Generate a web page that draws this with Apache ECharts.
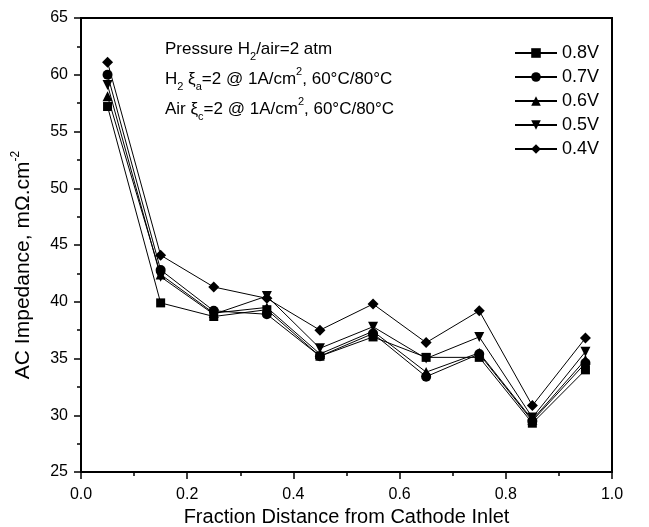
<!DOCTYPE html>
<html><head><meta charset="utf-8">
<script src="https://cdn.jsdelivr.net/npm/echarts@6/dist/echarts.min.js"></script>
<style>html,body{margin:0;padding:0;background:#fff}#c{width:649px;height:527px}</style>
</head><body><div id="c"></div>
<script>
// ---- data ----
const xPositions = [0.05, 0.15, 0.25, 0.35, 0.45, 0.55, 0.65, 0.75, 0.85, 0.95];
const seriesNames = ['0.8V', '0.7V', '0.6V', '0.5V', '0.4V'];
const v08 = [57.2, 39.9, 38.7, 39.3, 35.2, 36.9, 35.1, 35.1, 29.3, 34.0];
const v07 = [60.0, 42.8, 39.2, 38.9, 35.2, 37.2, 33.4, 35.4, 29.5, 34.6];
const v06 = [58.1, 42.4, 39.0, 39.5, 35.4, 37.4, 33.8, 35.5, 29.6, 34.9];
const v05 = [59.1, 42.2, 38.9, 40.5, 35.9, 37.8, 35.0, 36.9, 29.8, 35.6];
const v04 = [61.1, 44.1, 41.3, 40.3, 37.5, 39.8, 36.4, 39.2, 30.85, 36.8];
const xTickLabels = ['0.0', '0.2', '0.4', '0.6', '0.8', '1.0'];

const FONT = '"Liberation Sans", Arial, sans-serif';
const symbols = ['rect', 'circle', 'triangle', 'path://M0,0 L10,0 L5,10 Z', 'diamond'];
const sizes = [9, 10, 10, 10, 11];
const values = [v08, v07, v06, v05, v04];

const series = seriesNames.map((n, i) => ({
  name: n,
  type: 'line',
  data: xPositions.map((x, j) => [x, values[i][j]]),
  symbol: symbols[i],
  symbolSize: sizes[i],
  showAllSymbol: true,
  lineStyle: { color: '#000', width: 1 },
  itemStyle: { color: '#000', borderWidth: 0 },
  emphasis: { disabled: true },
  animation: false
}));

const axisCommon = {
  axisLine: { show: true, lineStyle: { color: '#000', width: 2 } },
  axisTick: { show: true, inside: false, length: 7, lineStyle: { color: '#000', width: 1.5 } },
  minorTick: { show: true, splitNumber: 2, length: 4, lineStyle: { color: '#000', width: 1.5 } },
  splitLine: { show: false },
  minorSplitLine: { show: false }
};

const richBase = {
  n: { fontSize: 17, fontFamily: FONT, color: '#000', lineHeight: 26 },
  sub: { fontSize: 11, fontFamily: FONT, color: '#000', lineHeight: 13, verticalAlign: 'bottom' },
  sup: { fontSize: 11, fontFamily: FONT, color: '#000', lineHeight: 13, verticalAlign: 'top' }
};

function annot(text, top) {
  return {
    type: 'text', left: 165, top: top,
    style: { text: text, rich: richBase, fontFamily: FONT, fontSize: 17, fill: '#000' }
  };
}

const option = {
  animation: false,
  backgroundColor: '#fff',
  grid: { left: 81, right: 37, top: 18, bottom: 55, containLabel: false, outerBoundsMode: 'none',
    show: true, borderColor: '#000', borderWidth: 2, backgroundColor: 'transparent' },
  xAxis: Object.assign({
    type: 'value', min: 0, max: 1, interval: 0.2,
    axisLabel: { color: '#000', fontSize: 16, fontFamily: FONT, margin: 15,
      formatter: (v) => xTickLabels[Math.round(v / 0.2)] },
    name: 'Fraction Distance from Cathode Inlet', nameLocation: 'middle', nameGap: 30,
    nameTextStyle: { color: '#000', fontSize: 20, fontFamily: FONT }
  }, axisCommon),
  yAxis: Object.assign({
    type: 'value', min: 25, max: 65, interval: 5,
    axisLabel: { color: '#000', fontSize: 16, fontFamily: FONT, margin: 13 },
    name: '{n|AC Impedance, mΩ.cm}{s|-2}', nameLocation: 'middle', nameGap: 45,
    nameTextStyle: { color: '#000', fontSize: 21, fontFamily: FONT, padding: [0, 40, 0, 0],
      rich: {
        n: { fontSize: 21, fontFamily: FONT, color: '#000', lineHeight: 26 },
        s: { fontSize: 12, fontFamily: FONT, color: '#000', lineHeight: 12, verticalAlign: 'top' }
      } }
  }, axisCommon),
  legend: {
    orient: 'vertical', left: 514, top: 44, padding: 0,
    itemWidth: 42, itemHeight: 12, itemGap: 6,
    textStyle: { color: '#000', fontSize: 18, fontFamily: FONT },
    data: seriesNames
  },
  graphic: [
    annot('{n|Pressure H}{sub|2}{n|/air=2 atm}', 41),
    annot('{n|H}{sub|2}{n| ξ}{sub|a}{n|=2 @ 1A/cm}{sup|2}{n|, 60°C/80°C}', 66),
    annot('{n|Air ξ}{sub|c}{n|=2 @ 1A/cm}{sup|2}{n|, 60°C/80°C}', 96)
  ],
  series: series
};

const chart = echarts.init(document.getElementById('c'), null, { renderer: 'canvas' });
chart.setOption(option);
</script></body></html>
